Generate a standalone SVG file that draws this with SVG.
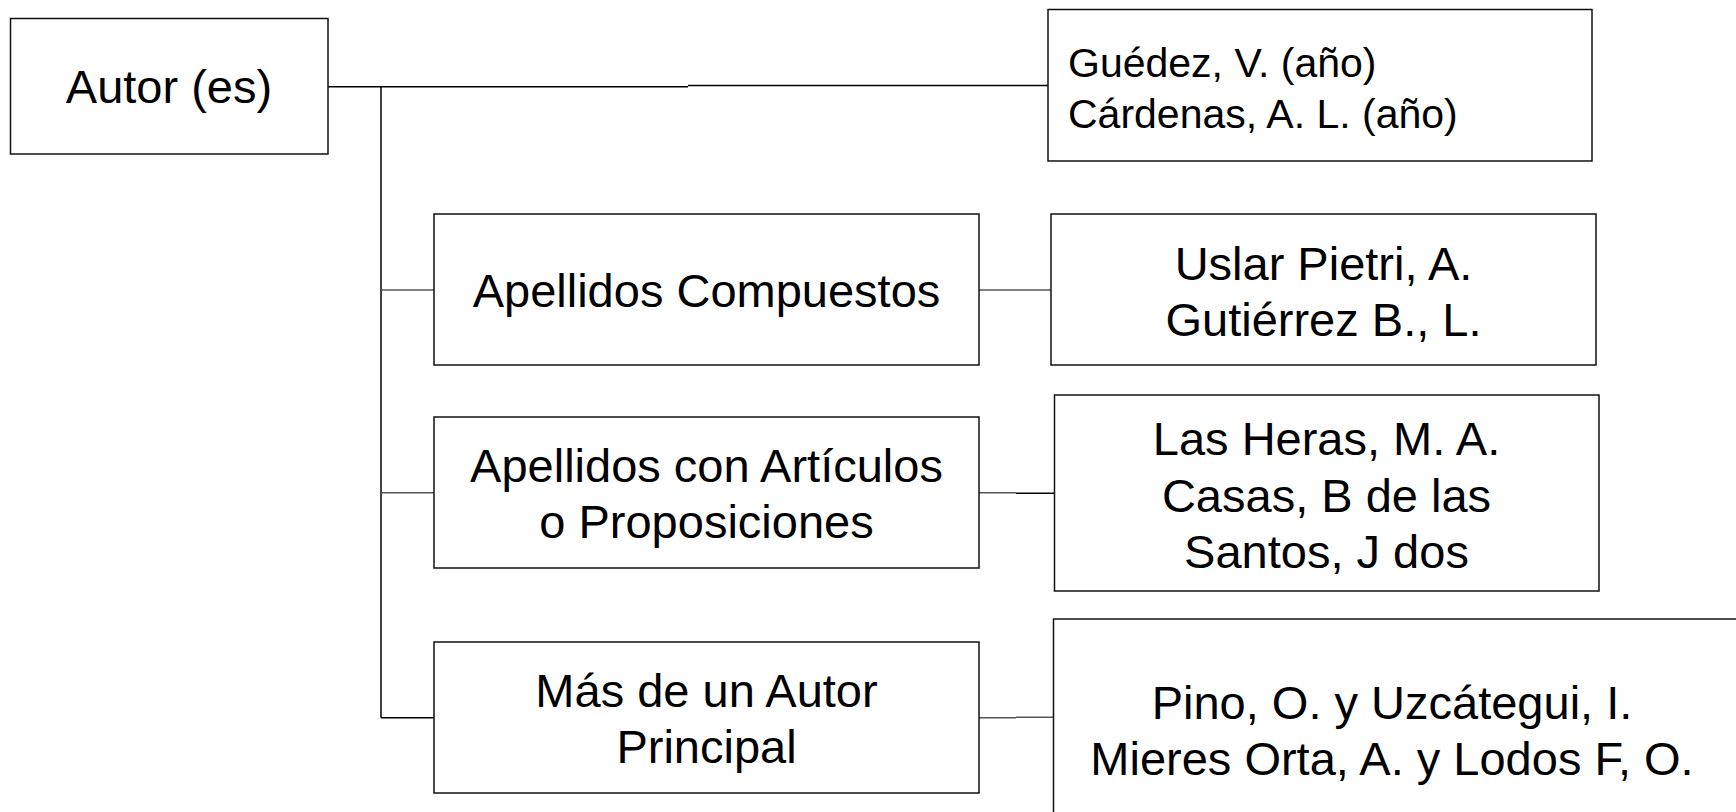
<svg xmlns="http://www.w3.org/2000/svg" width="1736" height="812" viewBox="0 0 1736 812">
<style>
.box{fill:#fff;stroke:#111;stroke-width:1.5}
.t{font-family:"Liberation Sans",Arial,Helvetica,sans-serif;font-size:47px;fill:#000;text-anchor:middle}
.tl{font-family:"Liberation Sans",Arial,Helvetica,sans-serif;font-size:41px;fill:#000}
.c{fill:none;stroke:#000;stroke-width:1.5}
.cg{fill:none;stroke:#555;stroke-width:1.5}
</style>
<rect width="1736" height="812" fill="#fff"/>
<g id="connectors">
<path class="c" d="M328 86.7H688"/>
<path class="c" d="M688 85.5H1048"/>
<path class="c" d="M381 86.7V717.7"/>
<path class="cg" d="M381 290H434"/>
<path class="cg" d="M381 492.7H434"/>
<path class="c" d="M381 717.7H434"/>
<path class="cg" d="M979 290H1051"/>
<path class="cg" d="M979 492.7H1016"/>
<path class="c" d="M1016 493.2H1054"/>
<path class="cg" d="M979 717.7H1016"/>
<path class="cg" d="M1016 717.2H1053"/>
</g>
<g id="autor">
<rect class="box" x="10.5" y="18.5" width="317.5" height="135.5"/>
<text class="t" x="169" y="103">Autor (es)</text>
</g>
<g id="guedez">
<rect class="box" x="1048" y="9.5" width="544" height="151.5"/>
<text class="tl" x="1068" y="77">Guédez, V. (año)</text>
<text class="tl" x="1068" y="128">Cárdenas, A. L. (año)</text>
</g>
<g id="compuestos">
<rect class="box" x="434" y="214" width="545" height="151"/>
<text class="t" x="706.5" y="306.5">Apellidos Compuestos</text>
</g>
<g id="uslar">
<rect class="box" x="1051" y="214" width="545" height="151"/>
<text class="t" x="1323.5" y="280">Uslar Pietri, A.</text>
<text class="t" x="1323.5" y="336">Gutiérrez B., L.</text>
</g>
<g id="articulos">
<rect class="box" x="434" y="417" width="545" height="151"/>
<text class="t" x="706.5" y="481.5">Apellidos con Artículos</text>
<text class="t" x="706.5" y="537.5">o Proposiciones</text>
</g>
<g id="lasheras">
<rect class="box" x="1054.5" y="395" width="544.5" height="196"/>
<text class="t" x="1326.5" y="455">Las Heras, M. A.</text>
<text class="t" x="1326.5" y="511.5">Casas, B de las</text>
<text class="t" x="1326.5" y="568">Santos, J dos</text>
</g>
<g id="masdeuno">
<rect class="box" x="434" y="642" width="545" height="151"/>
<text class="t" x="706.5" y="706.5">Más de un Autor</text>
<text class="t" x="706.5" y="762.5">Principal</text>
</g>
<g id="pino">
<rect class="box" x="1053.5" y="619" width="700" height="240"/>
<text class="t" x="1392" y="719">Pino, O. y Uzcátegui, I.</text>
<text class="t" x="1392" y="775">Mieres Orta, A. y Lodos F, O.</text>
</g>
</svg>
